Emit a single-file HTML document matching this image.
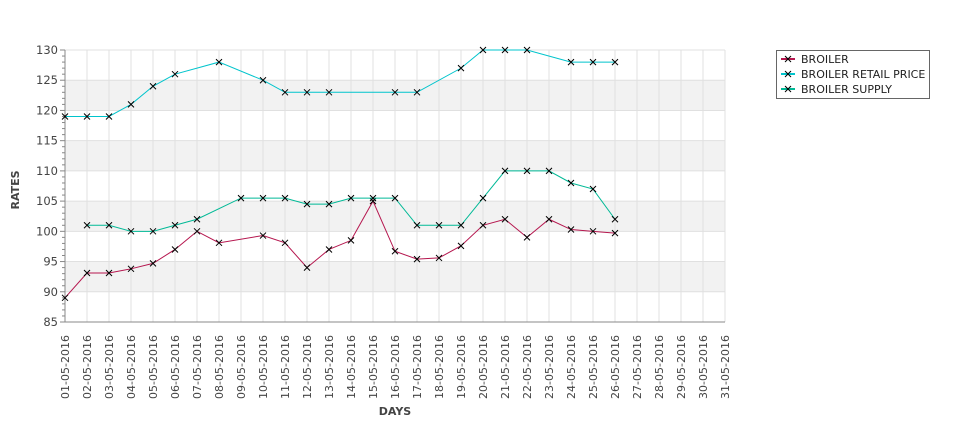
<!DOCTYPE html>
<html><head><meta charset="utf-8"><style>
body{margin:0;background:#fff;width:975px;height:429px;overflow:hidden}
svg{font-family:"DejaVu Sans","Liberation Sans",sans-serif}
</style></head><body>
<svg id="chart" width="975" height="429" xmlns="http://www.w3.org/2000/svg"></svg>
<script>
const days = ["01-05-2016","02-05-2016","03-05-2016","04-05-2016","05-05-2016","06-05-2016","07-05-2016","08-05-2016","09-05-2016","10-05-2016","11-05-2016","12-05-2016","13-05-2016","14-05-2016","15-05-2016","16-05-2016","17-05-2016","18-05-2016","19-05-2016","20-05-2016","21-05-2016","22-05-2016","23-05-2016","24-05-2016","25-05-2016","26-05-2016","27-05-2016","28-05-2016","29-05-2016","30-05-2016","31-05-2016"];
const broiler = [89,93.1,93.1,93.8,94.7,97,100,98.1,null,99.3,98.1,94,97,98.5,105,96.7,95.4,95.6,97.6,101,102,99,102,100.3,100,99.7];
const retail = [119,119,119,121,124,126,null,128,null,125,123,123,123,null,null,123,123,null,127,130,130,130,null,128,128,128];
const supply = [null,101,101,100,100,101,102,null,105.5,105.5,105.5,104.5,104.5,105.5,105.5,105.5,101,101,101,105.5,110,110,110,108,107,102];
const yTicks = [85,90,95,100,105,110,115,120,125,130];
const seriesNames = ["BROILER","BROILER RETAIL PRICE","BROILER SUPPLY"];
const seriesColors = ["#b5164e","#00c4cc","#00b996"];

const svg = document.getElementById('chart');
const NS = "http://www.w3.org/2000/svg";
const L=65,R=725,T=50,B=322,YMIN=85,YMAX=130;
const xs = i => L + i*(R-L)/(days.length-1);
const ys = v => B - (v-YMIN)*(B-T)/(YMAX-YMIN);
function el(tag, attrs, parent){const e=document.createElementNS(NS,tag);for(const k in attrs)e.setAttribute(k,attrs[k]);(parent||svg).appendChild(e);return e;}

// bands
for(let i=0;i<yTicks.length-1;i++){
  if(i%2===1){
    const b=el('rect',{x:L,y:ys(yTicks[i+1]),width:R-L,height:ys(yTicks[i])-ys(yTicks[i+1]),fill:'#f2f2f2'});
    
    
  }
}
// grid
days.forEach((d,i)=>{
  const g=el('line',{x1:xs(i),x2:xs(i),y1:T,y2:B,stroke:'#e0e0e0','stroke-width':1});
  
  
  const t=el('text',{x:0,y:0,'font-size':11,fill:'#444','text-anchor':'end',transform:`translate(${xs(i)+4},335) rotate(-90)`});
  t.textContent=d;
  
  
});
yTicks.forEach(v=>{
  const g=el('line',{x1:L,x2:R,y1:ys(v),y2:ys(v),stroke:'#e0e0e0','stroke-width':1});
  
  
  const t=el('text',{x:58,y:ys(v)+4,'font-size':11.5,fill:'#444','text-anchor':'end'});
  t.textContent=v;
  
  
});
for(let v=YMIN;v<=YMAX;v++){
  const m=el('line',{x1:v%5===0?60:62,x2:L,y1:ys(v),y2:ys(v),stroke:'#888','stroke-width':1});
  
  
}
const ax=el('line',{x1:L,x2:L,y1:T,y2:B,stroke:'#888'});


const bx=el('line',{x1:L,x2:R,y1:B,y2:B,stroke:'#888'});



// series
[broiler,retail,supply].forEach((data,si)=>{
  const pts=[];
  data.forEach((v,i)=>{if(v!==null)pts.push([xs(i),ys(v)]);});
  const p=el('polyline',{points:pts.map(p=>p.join(',')).join(' '),fill:'none',stroke:seriesColors[si],'stroke-width':1});
  
  
  pts.forEach(([x,y])=>{
    const m=el('path',{d:`M${x-3},${y-3}L${x+3},${y+3}M${x-3},${y+3}L${x+3},${y-3}`,stroke:'#000','stroke-width':1});
    
    
  });
});

// titles
const yt=el('text',{x:0,y:0,'font-size':11,'font-weight':'bold',fill:'#444','text-anchor':'middle',transform:'translate(19,190) rotate(-90)'});
yt.textContent='RATES';


const xt=el('text',{x:395,y:415,'font-size':11,'font-weight':'bold',fill:'#444','text-anchor':'middle'});
xt.textContent='DAYS';



// legend
const lg=el('rect',{x:776.5,y:50.5,width:153,height:48,fill:'#fff',stroke:'#666'});


seriesNames.forEach((n,i)=>{
  const y=59+i*15;
  const l=el('line',{x1:781,x2:795,y1:y,y2:y,stroke:seriesColors[i],'stroke-width':2});
  
  
  const m=el('path',{d:`M785,${y-3}L791,${y+3}M785,${y+3}L791,${y-3}`,stroke:'#000'});
  
  
  const t=el('text',{x:801,y:y+4,'font-size':11,fill:'#222'});
  t.textContent=n;
  
  
});
</script>
</body></html>
